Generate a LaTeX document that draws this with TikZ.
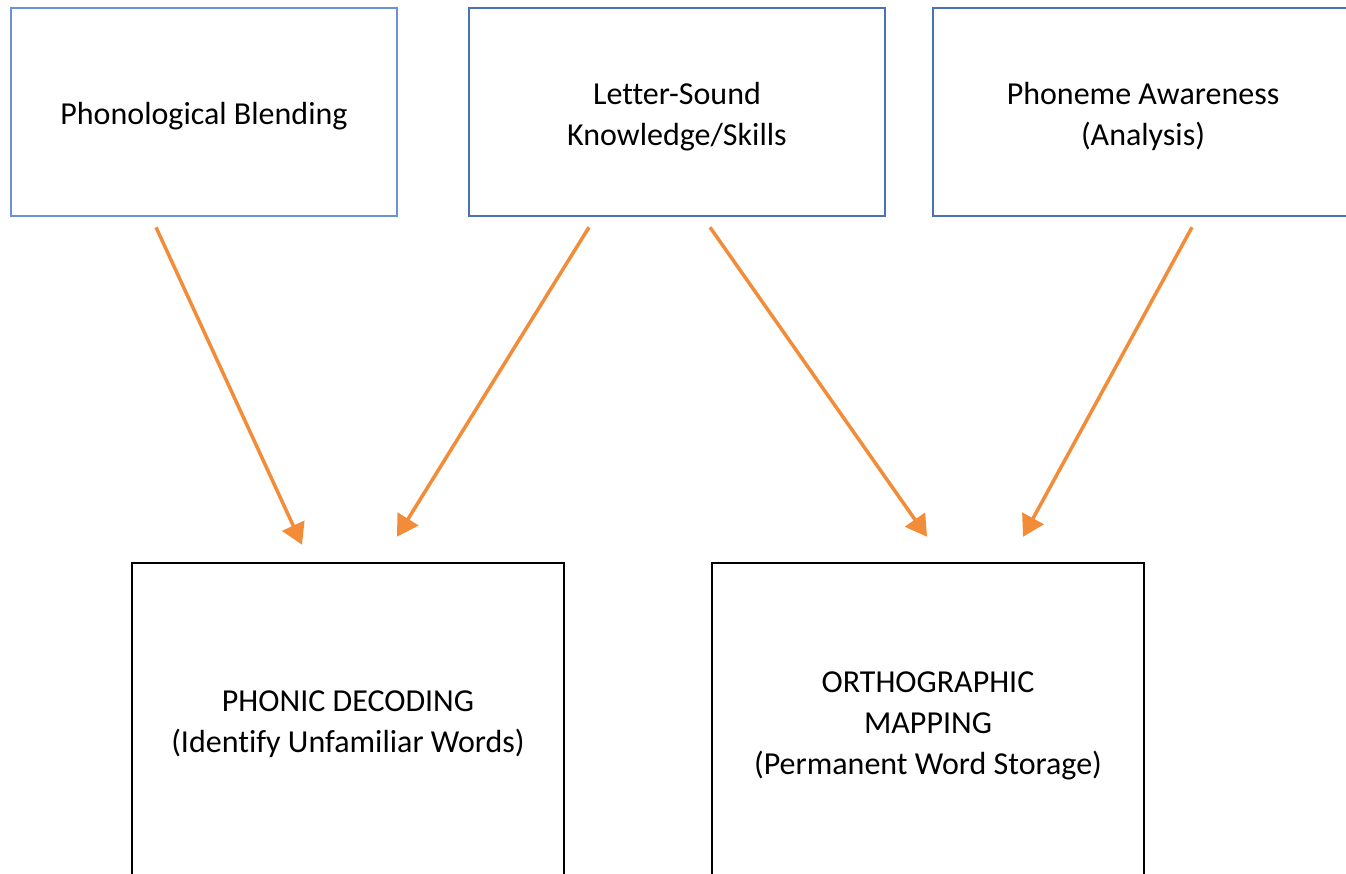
\documentclass[tikz,border=0pt]{standalone}
\usepackage{fontspec}
\setmainfont{Carlito}[Ligatures=NoCommon]
\usetikzlibrary{arrows.meta}
\definecolor{boxblue}{HTML}{4A72B0}
\definecolor{boxbluelight}{HTML}{6A93D4}
\definecolor{arrorange}{HTML}{F28C38}
\tikzset{
  topbox/.style={draw=boxblue, line width=2.5pt, rectangle, minimum height=208pt, inner sep=0pt},
  botbox/.style={draw=black, line width=2.5pt, rectangle, minimum width=432pt, minimum height=316pt, inner sep=0pt},
  conn/.style={draw=arrorange, line width=3.5pt, -{Triangle[length=21pt,width=24pt]}},
  lbl/.style={font=\fontsize{32}{41}\selectfont, align=center, inner sep=0pt}
}
\begin{document}
\begin{tikzpicture}[x=1pt,y=-1pt]
\useasboundingbox (0,0) rectangle (1346,873);
\clip (0,0) rectangle (1346,873);
\node[topbox, draw=boxbluelight, minimum width=386pt] (pb) at (204,112) {};
\node[topbox, minimum width=416pt] (ls) at (677,112) {};
\node[topbox, minimum width=420pt] (pa) at (1143,112) {};
\node[botbox] (pd) at (348,721) {};
\node[botbox] (om) at (928,721) {};
\node[lbl] (pbt) at ([yshift=-4.5pt]pb.center) {Phonological Blending};
\node[lbl] (lst) at ([yshift=-4.5pt]ls.center) {Letter-Sound\\Knowledge/Skills};
\node[lbl] (pat) at ([yshift=-4.5pt]pa.center) {Phoneme Awareness\\(Analysis)};
\node[lbl] (pdt) at ([yshift=-3.5pt]pd.center) {PHONIC DECODING\\(Identify Unfamiliar Words)};
\node[lbl] (omt) at ([yshift=-4.5pt]om.center) {ORTHOGRAPHIC\\MAPPING\\(Permanent Word Storage)};
\draw[conn] ([xshift=-48pt,yshift=-10pt]pb.south) -- ([xshift=-46pt,yshift=17pt]pd.north);
\draw[conn] ([xshift=-88pt,yshift=-10pt]ls.south) -- ([xshift=49pt,yshift=25pt]pd.north);
\draw[conn] ([xshift=33pt,yshift=-10pt]ls.south) -- ([xshift=-1pt,yshift=25pt]om.north);
\draw[conn] ([xshift=49pt,yshift=-10pt]pa.south) -- ([xshift=95pt,yshift=25pt]om.north);
\end{tikzpicture}
\end{document}
